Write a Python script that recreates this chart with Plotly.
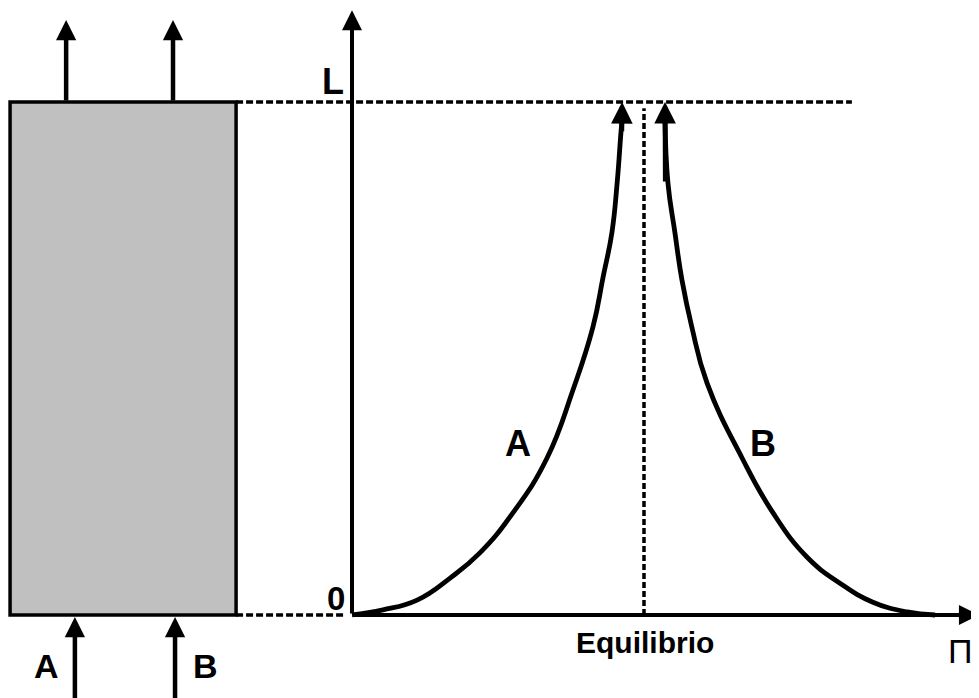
import plotly.graph_objects as go

# ---- data (Π axis: equilibrium = 1 ; height axis: L = 1) ----
curve_a_x = [0.0, 0.106, 0.223, 0.336, 0.438, 0.551, 0.668, 0.757, 0.825, 0.860, 0.890, 0.908, 0.921, 0.925]
curve_a_y = [0.0, 0.010, 0.029, 0.072, 0.121, 0.199, 0.306, 0.439, 0.561, 0.659, 0.745, 0.842, 0.940, 0.965]
curve_b_x = [1.072, 1.082, 1.106, 1.130, 1.164, 1.216, 1.336, 1.442, 1.558, 1.671, 1.784, 1.901, 1.997]
curve_b_y = [0.965, 0.842, 0.745, 0.653, 0.561, 0.452, 0.306, 0.199, 0.113, 0.062, 0.025, 0.006, 0.0]
curve_names = ["A", "B"]
EQ = 1.0
L = 1.0

FONT = "Liberation Sans, Arial, sans-serif"
BLACK = "#000000"

fig = go.Figure()

for xs, ys, name in [(curve_a_x, curve_a_y, curve_names[0]), (curve_b_x, curve_b_y, curve_names[1])]:
    fig.add_trace(go.Scatter(x=xs, y=ys, mode="lines", name=name,
                             line=dict(color=BLACK, width=4.8, shape="spline", smoothing=1.3),
                             hoverinfo="skip", showlegend=False))

shapes = []
# column (gray rectangle)
col_x0, col_x1 = -1.171, -0.397
shapes.append(dict(type="rect", xref="x", yref="y", x0=col_x0, x1=col_x1, y0=0, y1=L,
                   fillcolor="#c0c0c0", line=dict(color=BLACK, width=3.5), layer="below"))
dotted = dict(color=BLACK, width=3.5, dash="7px,3px")
shapes.append(dict(type="line", xref="x", yref="y", x0=col_x1, x1=1.712, y0=L, y1=L, line=dotted))
shapes.append(dict(type="line", xref="x", yref="y", x0=col_x1, x1=-0.024, y0=0, y1=0, line=dotted))
shapes.append(dict(type="line", xref="x", yref="y", x0=EQ, x1=EQ, y0=0, y1=0.988,
                   line=dict(color=BLACK, width=3.5, dash="6px,3px")))

annotations = []

def arrow(x, y, ax, ay, width=4, size=1.0):
    annotations.append(dict(x=x, y=y, ax=ax, ay=ay, xref="x", yref="y", axref="x", ayref="y",
                            text="", showarrow=True, arrowhead=2, arrowsize=size,
                            arrowwidth=width, arrowcolor=BLACK, standoff=0, startstandoff=0))

# axes with arrows
arrow(0, 1.179, 0, 0, width=4, size=1.0)
arrow(2.147, 0, 0, 0, width=4, size=1.0)
# column arrows (out at top, in at bottom)
arrow(-0.979, 1.160, -0.979, L, width=4.5, size=0.9)
arrow(-0.613, 1.160, -0.613, L, width=4.5, size=0.9)
arrow(-0.949, -0.004, -0.949, -0.17, width=4.5, size=0.9)
arrow(-0.606, -0.004, -0.606, -0.17, width=4.5, size=0.9)
# curve tips
arrow(curve_a_x[-1], L, curve_a_x[-1] - 0.001, curve_a_y[-2], width=4.8, size=0.9)
arrow(curve_b_x[0], L, curve_b_x[0] + 0.001, curve_b_y[1], width=4.8, size=0.9)

def text(x, y, s, size, bold=True):
    annotations.append(dict(x=x, y=y, xref="x", yref="y", text=f"<b>{s}</b>" if bold else s,
                            showarrow=False, font=dict(family=FONT, size=size, color=BLACK),
                            xanchor="center", yanchor="middle"))

text(-0.065, 1.040, "L", 36)
text(-0.055, 0.032, "0", 33)
text(0.568, 0.335, "A", 36)
text(1.407, 0.335, "B", 36)
text(-1.045, -0.100, "A", 34)
text(-0.503, -0.100, "B", 34)
text(1.005, -0.053, "Equilibrio", 30)
text(2.085, -0.070, "Π", 34, bold=False)

# The page body adds an 8 px margin, so the figure covers the window from (8, 8)
fig.update_layout(
    width=971, height=690,
    margin=dict(l=0, r=0, t=0, b=0),
    paper_bgcolor="white", plot_bgcolor="white",
    xaxis=dict(range=[-1.1781, 2.1473], visible=False, fixedrange=True),
    yaxis=dict(range=[-0.1618, 1.1832], visible=False, fixedrange=True),
    shapes=shapes, annotations=annotations,
    showlegend=False,
)

fig.write_html("out.html")
